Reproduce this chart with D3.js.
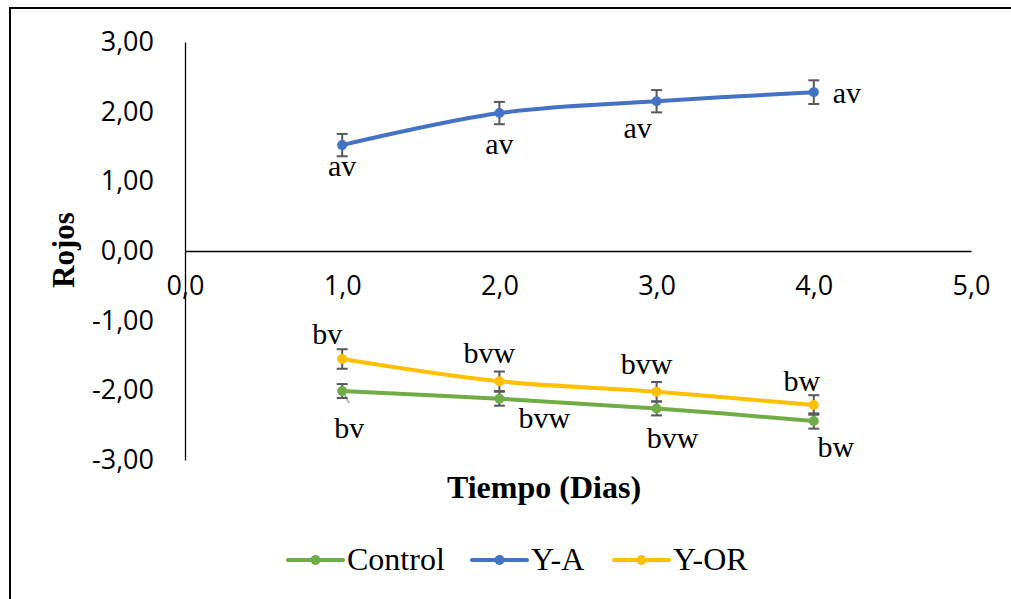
<!DOCTYPE html>
<html>
<head>
<meta charset="utf-8">
<script src="https://cdn.jsdelivr.net/npm/d3@7"></script>
<style>
  body { margin: 0; background: #fff; }
  svg { display: block; }
</style>
</head>
<body>
<script>
// data
const dias = [1, 2, 3, 4];
const seriesNames = ["Control", "Y-A", "Y-OR"];
const controlVals = [-2.01, -2.12, -2.26, -2.44];
const controlErr = [0.10, 0.10, 0.10, 0.11];
const controlLbl = ["bv", "bvw", "bvw", "bw"];
const yaVals = [1.52, 1.98, 2.15, 2.28];
const yaErr = [0.16, 0.16, 0.16, 0.17];
const yaLbl = ["av", "av", "av", "av"];
const yorVals = [-1.55, -1.87, -2.02, -2.21];
const yorErr = [0.14, 0.14, 0.14, 0.14];
const yorLbl = ["bv", "bvw", "bvw", "bw"];
const xTicks = [0, 1, 2, 3, 4, 5];
const yTicks = [-3, -2, -1, 0, 1, 2, 3];

// label placement (px offsets from each point, text baseline)
const lblOffsets = {
  "Control": [[7, 47], [45, 29], [16, 40], [22, 36]],
  "Y-A": [[0, 31], [0, 41], [-19, 37], [33, 11]],
  "Y-OR": [[-15, -15], [-10, -18], [-10, -18], [-12, -14]]
};
const colors = {"Control": "#70AD47", "Y-A": "#4472C4", "Y-OR": "#FFC000"};

const series = [
  {name: "Control", vals: controlVals, err: controlErr, lbl: controlLbl},
  {name: "Y-A", vals: yaVals, err: yaErr, lbl: yaLbl},
  {name: "Y-OR", vals: yorVals, err: yorErr, lbl: yorLbl}
];

const W = 1011, H = 599;
const svg = d3.select("body").append("svg").attr("width", W).attr("height", H);

// outer frame (left + top edges visible)
svg.append("path")
  .attr("d", `M10,${H} L10,8 L${W},8`)
  .attr("fill", "none").attr("stroke", "#000").attr("stroke-width", 2);

const es = d3.formatLocale({decimal: ",", thousands: ".", grouping: [3], currency: ["", ""], minus: "-"});
const fmtY = es.format(".2f"), fmtX = es.format(".1f");

const x = d3.scaleLinear().domain([0, 5]).range([185, 971]);
const y = d3.scaleLinear().domain([-3, 3]).range([460, 42]);

const sansFont = "'Open Sans', 'Noto Sans', sans-serif";
const serifFont = "'Liberation Serif', 'DejaVu Serif', serif";

// y axis
const yAx = svg.append("g")
  .attr("transform", `translate(${x(0)},0)`)
  .call(d3.axisLeft(y).tickValues(yTicks).tickFormat(fmtY).tickSize(0).tickSizeOuter(0).tickPadding(31));
yAx.select(".domain").attr("stroke", "#000").attr("stroke-width", 1.3);
yAx.selectAll("text").attr("font-family", sansFont).attr("font-size", 27).attr("fill", "#000");

// x axis through y=0
const xAx = svg.append("g")
  .attr("transform", `translate(0,${y(0)})`)
  .call(d3.axisBottom(x).tickValues(xTicks).tickFormat(fmtX).tickSize(0).tickSizeOuter(0).tickPadding(25));
xAx.select(".domain").attr("stroke", "#000").attr("stroke-width", 1.3);
xAx.selectAll("text").attr("font-family", sansFont).attr("font-size", 27).attr("fill", "#000");

// axis titles
svg.append("text")
  .attr("x", 544).attr("y", 498)
  .attr("text-anchor", "middle")
  .attr("font-family", serifFont).attr("font-weight", "bold").attr("font-size", 32)
  .text("Tiempo (Dias)");
svg.append("text")
  .attr("transform", "translate(74,250) rotate(-90)")
  .attr("text-anchor", "middle")
  .attr("font-family", serifFont).attr("font-weight", "bold").attr("font-size", 31)
  .text("Rojos");

const line = d3.line()
  .x((d, i) => x(dias[i]))
  .y(d => y(d))
  .curve(d3.curveCatmullRom);

// leader line for the first Control label
svg.append("line")
  .attr("x1", x(dias[0]) + 2).attr("y1", y(controlVals[0]) + 3)
  .attr("x2", x(dias[0]) + 7).attr("y2", y(controlVals[0]) + 12)
  .attr("stroke", "#A6A6A6").attr("stroke-width", 1.5);

series.forEach(s => {
  const g = svg.append("g");
  // error bars
  s.vals.forEach((v, i) => {
    const cx = x(dias[i]), t = y(v + s.err[i]), b = y(v - s.err[i]);
    g.append("line").attr("x1", cx).attr("x2", cx).attr("y1", t).attr("y2", b)
      .attr("stroke", "#595959").attr("stroke-width", 2);
    [t, b].forEach(yy => g.append("line")
      .attr("x1", cx - 5.5).attr("x2", cx + 5.5).attr("y1", yy).attr("y2", yy)
      .attr("stroke", "#595959").attr("stroke-width", 2));
  });
  g.append("path")
    .attr("d", line(s.vals))
    .attr("fill", "none").attr("stroke", colors[s.name])
    .attr("stroke-width", 4).attr("stroke-linecap", "round");
  g.selectAll("circle").data(s.vals).join("circle")
    .attr("cx", (d, i) => x(dias[i])).attr("cy", d => y(d))
    .attr("r", 5).attr("fill", colors[s.name]);
  g.selectAll("text.lbl").data(s.lbl).join("text")
    .attr("class", "lbl")
    .attr("x", (d, i) => x(dias[i]) + lblOffsets[s.name][i][0])
    .attr("y", (d, i) => y(s.vals[i]) + lblOffsets[s.name][i][1])
    .attr("text-anchor", "middle")
    .attr("font-family", serifFont).attr("font-size", 30).attr("fill", "#000")
    .text(d => d);
});

// legend
const legX = [288, 472, 614];
const leg = svg.append("g").attr("transform", "translate(0,560)");
seriesNames.forEach((n, i) => {
  const g = leg.append("g").attr("transform", `translate(${legX[i]},0)`);
  g.append("line").attr("x1", 0).attr("x2", 55).attr("y1", 0).attr("y2", 0)
    .attr("stroke", colors[n]).attr("stroke-width", 4).attr("stroke-linecap", "round");
  g.append("circle").attr("cx", 27.5).attr("cy", 0).attr("r", 5).attr("fill", colors[n]);
  g.append("text").attr("x", 59).attr("y", 10)
    .attr("font-family", serifFont).attr("font-size", 32).attr("fill", "#000")
    .text(n);
});
</script>
</body>
</html>
